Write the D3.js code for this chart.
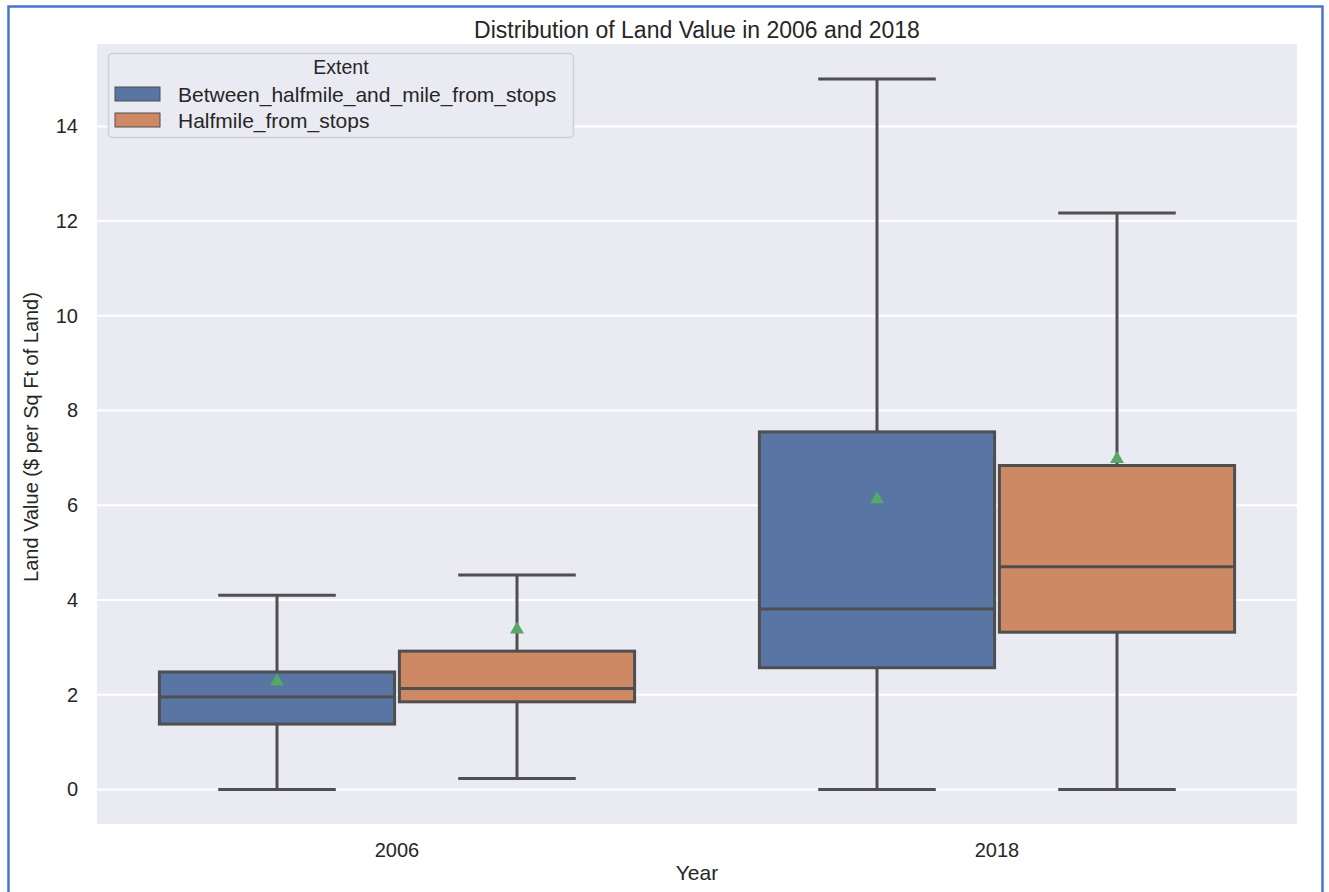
<!DOCTYPE html>
<html>
<head>
<meta charset="utf-8">
<script src="https://cdn.jsdelivr.net/npm/d3@7"></script>
<style>
  body { margin: 0; background: #fff; }
  text { font-family: "Liberation Sans", Arial, sans-serif; fill: #262626; }
</style>
</head>
<body>
<div id="chart"></div>
<script>
// chart values
var years = ["2006", "2018"];
var extents = ["Between_halfmile_and_mile_from_stops", "Halfmile_from_stops"];
var whiskerLow = [[0, 0.23], [0, 0]];
var q1 = [[1.38, 1.85], [2.57, 3.32]];
var medians = [[1.95, 2.13], [3.81, 4.70]];
var q3 = [[2.48, 2.92], [7.55, 6.84]];
var whiskerHigh = [[4.10, 4.53], [15.0, 12.17]];
var means = [[2.32, 3.42], [6.17, 7.02]];
var yTicks = [0, 2, 4, 6, 8, 10, 12, 14];

var svgWidth = 1329;
var svgHeight = 892;

var plot = { left: 97, top: 44, right: 1297, bottom: 824 };

var colors = ["#5875a4", "#cc8963"];
var lineColor = "#4f4f4f";

var svg = d3.select("#chart")
  .append("svg")
  .attr("width", svgWidth)
  .attr("height", svgHeight);

// blue frame round the figure
svg.append("path")
  .attr("d", `M8.5,${svgHeight + 5} L8.5,6.5 L1322.5,6.5 L1322.5,${svgHeight + 5}`)
  .attr("fill", "none")
  .attr("stroke", "#4a74d0")
  .attr("stroke-width", 2.5);

// scales
var xScale = d3.scaleBand()
  .domain(years)
  .range([plot.left, plot.right]);

var hueScale = d3.scaleBand()
  .domain(extents)
  .range([xScale.bandwidth() * 0.1, xScale.bandwidth() * 0.9]);

var yScale = d3.scaleLinear()
  .domain([-0.73, 15.74])
  .range([plot.bottom, plot.top]);

// plot background
svg.append("rect")
  .attr("x", plot.left)
  .attr("y", plot.top)
  .attr("width", plot.right - plot.left)
  .attr("height", plot.bottom - plot.top)
  .attr("fill", "#eaeaf2");

// gridlines
svg.append("g")
  .selectAll("line")
  .data(yTicks)
  .enter()
  .append("line")
  .attr("x1", plot.left)
  .attr("x2", plot.right)
  .attr("y1", d => yScale(d))
  .attr("y2", d => yScale(d))
  .attr("stroke", "#fff")
  .attr("stroke-width", 2);

// y axis
var yAxis = svg.append("g")
  .attr("transform", `translate(${plot.left},0)`)
  .call(d3.axisLeft(yScale).tickValues(yTicks).tickSize(0).tickPadding(19));
yAxis.select(".domain").remove();
yAxis.selectAll("text")
  .attr("font-size", 20)
  .attr("font-family", "Liberation Sans, Arial, sans-serif")
  .attr("fill", "#262626");

// x axis
var xAxis = svg.append("g")
  .attr("transform", `translate(0,${plot.bottom})`)
  .call(d3.axisBottom(xScale).tickSize(0).tickPadding(19));
xAxis.select(".domain").remove();
xAxis.selectAll("text")
  .attr("font-size", 20)
  .attr("font-family", "Liberation Sans, Arial, sans-serif")
  .attr("fill", "#262626");

// flatten to one record per box
var boxes = [];
years.forEach(function(year, i) {
  extents.forEach(function(ext, j) {
    boxes.push({
      year: year, ext: ext, color: colors[j],
      low: whiskerLow[i][j], q1: q1[i][j], med: medians[i][j],
      q3: q3[i][j], high: whiskerHigh[i][j], mean: means[i][j]
    });
  });
});

var boxW = hueScale.bandwidth() * 0.98;
function cx(d) { return xScale(d.year) + hueScale(d.ext) + hueScale.bandwidth() / 2; }

var boxGroup = svg.append("g");

boxes.forEach(function(d) {
  var c = cx(d);
  var g = boxGroup.append("g");
  // box
  g.append("rect")
    .attr("x", c - boxW / 2)
    .attr("y", yScale(d.q3))
    .attr("width", boxW)
    .attr("height", yScale(d.q1) - yScale(d.q3))
    .attr("fill", d.color)
    .attr("stroke", lineColor)
    .attr("stroke-width", 3);
  // whiskers
  g.append("line")
    .attr("x1", c).attr("x2", c)
    .attr("y1", yScale(d.q3)).attr("y2", yScale(d.high))
    .attr("stroke", lineColor).attr("stroke-width", 3);
  g.append("line")
    .attr("x1", c).attr("x2", c)
    .attr("y1", yScale(d.q1)).attr("y2", yScale(d.low))
    .attr("stroke", lineColor).attr("stroke-width", 3);
  // caps
  [d.high, d.low].forEach(function(v) {
    g.append("line")
      .attr("x1", c - boxW / 4).attr("x2", c + boxW / 4)
      .attr("y1", yScale(v)).attr("y2", yScale(v))
      .attr("stroke", lineColor).attr("stroke-width", 3);
  });
  // median
  g.append("line")
    .attr("x1", c - boxW / 2).attr("x2", c + boxW / 2)
    .attr("y1", yScale(d.med)).attr("y2", yScale(d.med))
    .attr("stroke", lineColor).attr("stroke-width", 3);
  // mean marker
  var my = yScale(d.mean);
  g.append("path")
    .attr("d", `M${c},${my - 6} L${c - 7},${my + 6} L${c + 7},${my + 6} Z`)
    .attr("fill", "#55a868");
});

// title and axis labels
svg.append("text")
  .attr("x", (plot.left + plot.right) / 2)
  .attr("y", 38)
  .attr("text-anchor", "middle")
  .attr("font-size", 23)
  .text("Distribution of Land Value in 2006 and 2018");

svg.append("text")
  .attr("x", (plot.left + plot.right) / 2)
  .attr("y", 880)
  .attr("text-anchor", "middle")
  .attr("font-size", 21)
  .text("Year");

svg.append("text")
  .attr("transform", `translate(38,${(plot.top + plot.bottom) / 2 + 3}) rotate(-90)`)
  .attr("text-anchor", "middle")
  .attr("font-size", 20)
  .text("Land Value ($ per Sq Ft of Land)");

// legend
var legend = svg.append("g");
legend.append("rect")
  .attr("x", 108.5)
  .attr("y", 53.5)
  .attr("width", 465)
  .attr("height", 84)
  .attr("rx", 4)
  .attr("fill", "#eaeaf2")
  .attr("stroke", "#d0d0d8")
  .attr("stroke-width", 1.5);

legend.append("text")
  .attr("x", 341)
  .attr("y", 74)
  .attr("text-anchor", "middle")
  .attr("font-size", 19.5)
  .text("Extent");

extents.forEach(function(ext, j) {
  var rowY = 94 + j * 26;
  legend.append("rect")
    .attr("x", 115)
    .attr("y", rowY - 7)
    .attr("width", 45)
    .attr("height", 14)
    .attr("fill", colors[j])
    .attr("stroke", lineColor)
    .attr("stroke-width", 1);
  legend.append("text")
    .attr("x", 178)
    .attr("y", rowY + 8)
    .attr("font-size", 21)
    .text(ext);
});
</script>
</body>
</html>
